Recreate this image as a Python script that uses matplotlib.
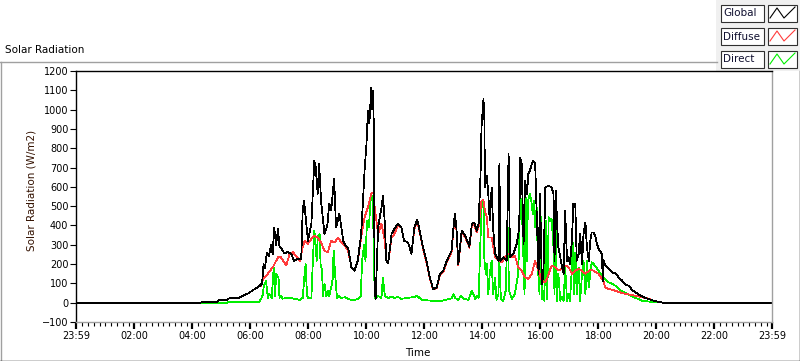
import matplotlib.pyplot as plt
from matplotlib.patches import Rectangle

# Solar radiation over one day, time in minutes after midnight, values in W/m2
global_min = [0, 257, 261, 290, 295, 311, 315, 336, 344, 355, 367, 378, 384, 387, 390, 394, 398, 403, 406, 409,
              413, 417, 420, 423, 430, 436, 444, 450, 456, 465, 468, 471, 475, 479, 486, 492, 495, 499, 502, 506,
              513, 519, 523, 527, 533, 537, 544, 552, 556, 562, 569, 575, 582, 589, 592, 596, 600, 603, 606, 610,
              612, 614, 615, 617, 619, 624, 631, 634, 638, 641, 645, 652, 658, 665, 672, 678, 686, 693, 699, 705,
              710, 717, 724, 731, 738, 745, 752, 759, 766, 776, 780, 783, 786, 790, 797, 804, 811, 813, 818, 823,
              828, 832, 836, 838, 842, 844, 845, 849, 852, 855, 859, 862, 866, 873, 875, 877, 883, 890, 894, 897,
              904, 911, 916, 918, 921, 925, 928, 932, 935, 938, 942, 945, 949, 952, 956, 959, 963, 966, 970, 977,
              983, 987, 989, 992, 994, 997, 1001, 1004, 1008, 1011, 1015, 1018, 1021, 1025, 1028, 1032, 1035, 1039,
              1042, 1046, 1049, 1053, 1056, 1060, 1063, 1066, 1070, 1073, 1077, 1080, 1087, 1089, 1091, 1094, 1101,
              1108, 1115, 1122, 1129, 1136, 1143, 1150, 1156, 1163, 1170, 1177, 1184, 1191, 1201, 1214, 1440]
global_wm2 = [0, 0, 3, 3, 13, 14, 22, 26, 36, 48, 68, 85, 100, 200, 180, 260, 240, 300, 250, 390,
              300, 380, 290, 286, 255, 262, 255, 217, 225, 228, 477, 528, 420, 321, 409, 735, 700, 564, 720, 528,
              357, 400, 513, 480, 642, 390, 460, 321, 300, 285, 181, 166, 217, 357, 492, 683, 822, 995, 930, 1115,
              1000, 1098, 908, 60, 20, 390, 492, 554, 409, 217, 207, 357, 383, 409, 390, 321, 312, 253, 390, 430,
              373, 286, 217, 131, 71, 79, 150, 166, 217, 269, 390, 460, 390, 200, 373, 347, 305, 290, 409, 416,
              373, 409, 668, 908, 1055, 943, 597, 658, 564, 425, 597, 390, 253, 217, 720, 217, 235, 217, 770, 235,
              253, 305, 390, 752, 720, 305, 632, 564, 668, 683, 720, 735, 720, 477, 150, 564, 98, 150, 597, 606,
              597, 564, 217, 580, 425, 286, 235, 192, 150, 477, 217, 235, 200, 321, 513, 513, 217, 253,
              357, 200, 357, 416, 286, 217, 321, 364, 364, 347, 305, 280, 253, 110, 220, 192, 176,
              157, 152, 131, 114, 93, 88, 65, 55, 42, 33, 25, 19, 13, 6, 0, 0]

diffuse_min = [0, 257, 261, 290, 295, 311, 315, 336, 344, 355, 367, 378, 382, 386, 396, 406, 417, 423, 430, 434,
               441, 448, 455, 462, 468, 472, 479, 486, 492, 499, 506, 513, 520, 527, 534, 541, 548, 555, 562, 569,
               575, 582, 589, 596, 603, 610, 614, 617, 624, 631, 638, 641, 645, 652, 658, 665, 672, 678, 686, 693,
               699, 705, 710, 717, 724, 731, 738, 745, 752, 759, 766, 776, 780, 783, 786, 790, 797, 804, 811, 813,
               818, 823, 828, 832, 838, 842, 845, 849, 852, 859, 866, 873, 880, 887, 894, 901, 907, 914, 921, 928,
               935, 942, 949, 956, 963, 970, 977, 983, 990, 997, 1004, 1011, 1018, 1025, 1032, 1039, 1046, 1053,
               1060, 1066, 1073, 1080, 1087, 1091, 1094, 1101, 1115, 1129, 1143, 1156, 1170, 1184, 1191, 1201,
               1214, 1440]
diffuse_wm2 = [0, 0, 3, 3, 13, 14, 22, 26, 36, 48, 68, 85, 88, 120, 150, 183, 235, 235, 209, 192,
               253, 261, 240, 217, 286, 321, 305, 331, 347, 338, 312, 269, 261, 321, 312, 338, 312, 295, 269, 183,
               166, 217, 338, 442, 494, 564, 571, 494, 357, 409, 321, 217, 207, 338, 357, 400, 390, 321, 312, 253,
               380, 420, 365, 280, 210, 125, 68, 75, 145, 160, 210, 262, 380, 445, 380, 195, 365, 340, 300, 285,
               400, 405, 365, 395, 528, 533, 477, 442, 338, 338, 235, 217, 209, 235, 253, 235, 245, 183, 166, 131,
               123, 150, 217, 166, 114, 105, 150, 192, 185, 166, 175, 192, 185, 150, 165, 176, 165, 150,
               165, 171, 160, 150, 124, 105, 79, 71, 62, 50, 42, 36, 28, 21, 13, 6,
               0, 0]

direct_min = [0, 257, 261, 311, 313, 378, 382, 386, 387, 392, 396, 399, 404, 408, 411, 413, 418, 420, 423, 427,
              434, 444, 455, 462, 468, 472, 474, 477, 480, 486, 489, 492, 494, 497, 499, 503, 505, 508, 510, 513,
              517, 520, 523, 527, 530, 532, 535, 539, 542, 548, 555, 562, 569, 575, 582, 588, 591, 595, 598, 601,
              605, 608, 610, 613, 615, 617, 624, 631, 634, 638, 645, 652, 658, 665, 672, 678, 699, 705, 714, 735,
              756, 776, 780, 783, 790, 795, 800, 811, 818, 821, 825, 828, 832, 835, 838, 842, 844, 847, 849, 852,
              855, 859, 862, 866, 869, 873, 875, 878, 883, 888, 892, 895, 901, 907, 914, 918, 921, 925, 927, 930,
              932, 934, 938, 941, 944, 946, 949, 952, 955, 958, 960, 963, 966, 968, 971, 974, 977, 980, 983, 987,
              989, 992, 994, 997, 1001, 1004, 1008, 1011, 1015, 1018, 1021, 1025, 1027, 1030, 1032, 1035, 1039,
              1042, 1046, 1049, 1053, 1056, 1060, 1063, 1066, 1070, 1073, 1080, 1087, 1094, 1101, 1108, 1115,
              1122, 1129, 1136, 1143, 1150, 1156, 1163, 1170, 1177, 1184, 1191, 1201, 1214, 1440]
direct_wm2 = [0, 0, -2, -2, 4, 5, 19, 45, 79, 114, 25, 45, 25, 183, 35, 150, 130, 25, 35, 21,
              24, 24, 18, 14, 25, 150, 200, 35, 22, 25, 217, 373, 330, 217, 338, 357, 200, 166, 35, 98,
              35, 60, 35, 80, 120, 269, 150, 25, 35, 25, 28, 20, 14, 14, 20, 35, 217, 300, 217, 425,
              390, 513, 564, 530, 300, 21, 35, 25, 131, 35, 25, 30, 25, 30, 20, 22, 30, 35, 15, 10,
              10, 22, 45, 25, 14, 35, 22, 14, 62, 45, 20, 35, 25, 253, 494, 528, 217, 150, 200, 45,
              150, 217, 45, 131, 14, 45, 217, 20, 10, 62, 390, 62, 20, 45, 150, 545, 528, 217, 45, 545,
              217, 528, 564, 528, 460, 528, 390, 494, 166, 45, 494, 20, 62, 10, 425, 20, 442, 425, 435, 286,
              45, 425, 10, 150, 10, 30, 10, 183, 10, 45, 10, 183, 312, 45, 260, 45, 183,
              10, 150, 217, 45, 217, 80, 150, 209, 200, 190, 166, 140, 120, 105, 98, 88,
              70, 60, 50, 42, 32, 25, 18, 10, 9, 6, 4, 2, 0, 0]

names = ['Global', 'Diffuse', 'Direct']
colors = ['black', '#ff3c3c', '#00ee00']
tick_labels = ['23:59', '02:00', '04:00', '06:00', '08:00', '10:00', '12:00',
               '14:00', '16:00', '18:00', '20:00', '22:00', '23:59']

fig = plt.figure(figsize=(8, 3.61), dpi=100)

# frame, title and legend drawn in pixel coordinates
bg = fig.add_axes([0, 0, 1, 1], zorder=0)
bg.set_xlim(0, 800)
bg.set_ylim(361, 0)
bg.axis('off')
bg.plot([0.5, 0.5], [62, 361], color='#a0a0a0', lw=1)
bg.plot([0, 717], [62, 62], color='#a0a0a0', lw=1)
bg.plot([799.5, 799.5], [71, 361], color='black', lw=1)
bg.plot([0, 800], [360.5, 360.5], color='black', lw=1)
bg.text(5, 50, 'Solar Radiation', fontsize=7.5, va='center')

bg.add_patch(Rectangle((716, 0), 84, 71, facecolor='#f0f0f0', edgecolor='none'))
for i, (name, col) in enumerate(zip(names, colors)):
    y0 = 5 + i * 23
    bg.add_patch(Rectangle((721, y0), 43, 17, facecolor='white', edgecolor='#303030', lw=0.8))
    bg.text(723, y0 + 8.5, name, fontsize=7.5, va='center', color='#101030')
    bg.add_patch(Rectangle((768, y0), 29, 17, facecolor='white', edgecolor='#303030', lw=0.8))
    bg.plot([770, 777, 784, 795], [y0 + 13, y0 + 3, y0 + 13, y0 + 2], color=col, lw=0.8)

# plot area
ax = fig.add_axes([76 / 800, 1 - 322 / 361, 696 / 800, 251 / 361], zorder=1)
ax.plot(direct_min, direct_wm2, color=colors[2], lw=0.55, antialiased=False)
ax.plot(diffuse_min, diffuse_wm2, color=colors[1], lw=0.55, antialiased=False)
ax.plot(global_min, global_wm2, color=colors[0], lw=0.55, antialiased=False)

ax.set_xlim(-1, 1439)
ax.set_ylim(-100, 1200)
ax.set_yticks(range(-100, 1201, 100))
major = [-1] + list(range(120, 1321, 120)) + [1439]
ax.set_xticks(major)
ax.set_xticklabels(tick_labels)
ax.set_xticks([m for m in range(0, 1440, 12) if m % 120 != 0], minor=True)

ax.tick_params(axis='both', labelsize=7, direction='out', length=4, width=0.8, pad=1.5)
ax.tick_params(axis='x', which='major', length=5, width=1.6)
ax.tick_params(axis='x', which='minor', length=3, width=0.8)

for side in ['top', 'left']:
    ax.spines[side].set_color('black')
for side in ['right', 'bottom']:
    ax.spines[side].set_color('#a0a0a0')
for s in ax.spines.values():
    s.set_linewidth(1)

ax.set_xlabel('Time', fontsize=7.5)
ax.xaxis.set_label_coords(342 / 696, -26 / 251)
ax.set_ylabel('Solar Radiation (W/m2)', fontsize=7.5, color='#331100')
ax.yaxis.set_label_coords(-39 / 696, 0.526)

fig.savefig('out.png', dpi=100)
